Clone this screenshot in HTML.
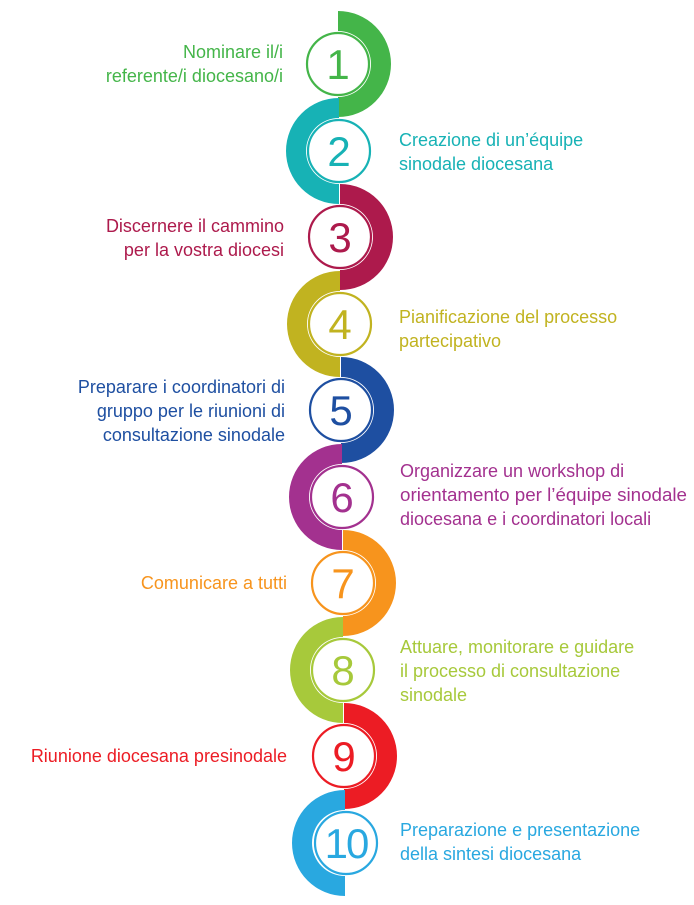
<!DOCTYPE html>
<html><head><meta charset="utf-8"><style>
html,body{margin:0;padding:0;background:#fff;}
svg{display:block;}
text{font-family:"Liberation Sans",sans-serif;}
.t{font-size:18px;}
.n{font-size:42px;font-weight:normal;}
</style></head><body>
<svg width="694" height="905" viewBox="0 0 694 905" xmlns="http://www.w3.org/2000/svg">
<path d="M338,11 A53,53 0 0 1 338,117 L338,97 A33,33 0 0 0 338,31 Z" fill="#44b549"/>
<path d="M339,98 A53,53 0 0 0 339,204 L339,184 A33,33 0 0 1 339,118 Z" fill="#17b2b5"/>
<path d="M340,184 A53,53 0 0 1 340,290 L340,270 A33,33 0 0 0 340,204 Z" fill="#ad1a4c"/>
<path d="M340,271 A53,53 0 0 0 340,377 L340,357 A33,33 0 0 1 340,291 Z" fill="#c1b320"/>
<path d="M341,357 A53,53 0 0 1 341,463 L341,443 A33,33 0 0 0 341,377 Z" fill="#1e4fa1"/>
<path d="M342,444 A53,53 0 0 0 342,550 L342,530 A33,33 0 0 1 342,464 Z" fill="#a3318f"/>
<path d="M343,530 A53,53 0 0 1 343,636 L343,616 A33,33 0 0 0 343,550 Z" fill="#f7941d"/>
<path d="M343,617 A53,53 0 0 0 343,723 L343,703 A33,33 0 0 1 343,637 Z" fill="#a7c93b"/>
<path d="M344,703 A53,53 0 0 1 344,809 L344,789 A33,33 0 0 0 344,723 Z" fill="#ec1c24"/>
<path d="M345,790 A53,53 0 0 0 345,896 L345,876 A33,33 0 0 1 345,810 Z" fill="#29a8e0"/>

<g fill="#fff" stroke-width="2.2">
<circle cx="338" cy="64" r="31" stroke="#44b549"/>
<circle cx="339" cy="151" r="31" stroke="#17b2b5"/>
<circle cx="340" cy="237" r="31" stroke="#ad1a4c"/>
<circle cx="340" cy="324" r="31" stroke="#c1b320"/>
<circle cx="341" cy="410" r="31" stroke="#1e4fa1"/>
<circle cx="342" cy="497" r="31" stroke="#a3318f"/>
<circle cx="343" cy="583" r="31" stroke="#f7941d"/>
<circle cx="343" cy="670" r="31" stroke="#a7c93b"/>
<circle cx="344" cy="756" r="31" stroke="#ec1c24"/>
<circle cx="346" cy="843" r="31" stroke="#29a8e0"/>
</g>
<g class="n" text-anchor="middle">
<text x="338" y="79" fill="#44b549">1</text>
<text x="339" y="166" fill="#17b2b5">2</text>
<text x="340" y="252" fill="#ad1a4c">3</text>
<text x="340" y="339" fill="#c1b320">4</text>
<text x="341" y="425" fill="#1e4fa1">5</text>
<text x="342" y="512" fill="#a3318f">6</text>
<text x="343" y="598" fill="#f7941d">7</text>
<text x="343" y="685" fill="#a7c93b">8</text>
<text x="344" y="771" fill="#ec1c24">9</text>
<text x="346" y="858" fill="#29a8e0" letter-spacing="-2">10</text>
</g>
<g class="t">
<g text-anchor="end">
<text x="283" y="58" fill="#44b549">Nominare il/i</text>
<text x="283" y="82" fill="#44b549">referente/i diocesano/i</text>
<text x="284" y="232" fill="#ad1a4c">Discernere il cammino</text>
<text x="284" y="256" fill="#ad1a4c">per la vostra diocesi</text>
<text x="285" y="393" fill="#1e4fa1">Preparare i coordinatori di</text>
<text x="285" y="417" fill="#1e4fa1">gruppo per le riunioni di</text>
<text x="285" y="441" fill="#1e4fa1">consultazione sinodale</text>
<text x="287" y="589" fill="#f7941d">Comunicare a tutti</text>
<text x="287" y="762" fill="#ec1c24">Riunione diocesana presinodale</text>
</g>
<text x="399" y="146" fill="#17b2b5">Creazione di un’équipe</text>
<text x="399" y="170" fill="#17b2b5">sinodale diocesana</text>
<text x="399" y="323" fill="#c1b320">Pianificazione del processo</text>
<text x="399" y="347" fill="#c1b320">partecipativo</text>
<text x="400" y="477" fill="#a3318f">Organizzare un workshop di</text>
<text x="400" y="501" fill="#a3318f" textLength="287" lengthAdjust="spacingAndGlyphs">orientamento per l’équipe sinodale</text>
<text x="400" y="525" fill="#a3318f">diocesana e i coordinatori locali</text>
<text x="400" y="653" fill="#a7c93b">Attuare, monitorare e guidare</text>
<text x="400" y="677" fill="#a7c93b">il processo di consultazione</text>
<text x="400" y="701" fill="#a7c93b">sinodale</text>
<text x="400" y="836" fill="#29a8e0">Preparazione e presentazione</text>
<text x="400" y="860" fill="#29a8e0">della sintesi diocesana</text>
</g>
</svg>
</body></html>
